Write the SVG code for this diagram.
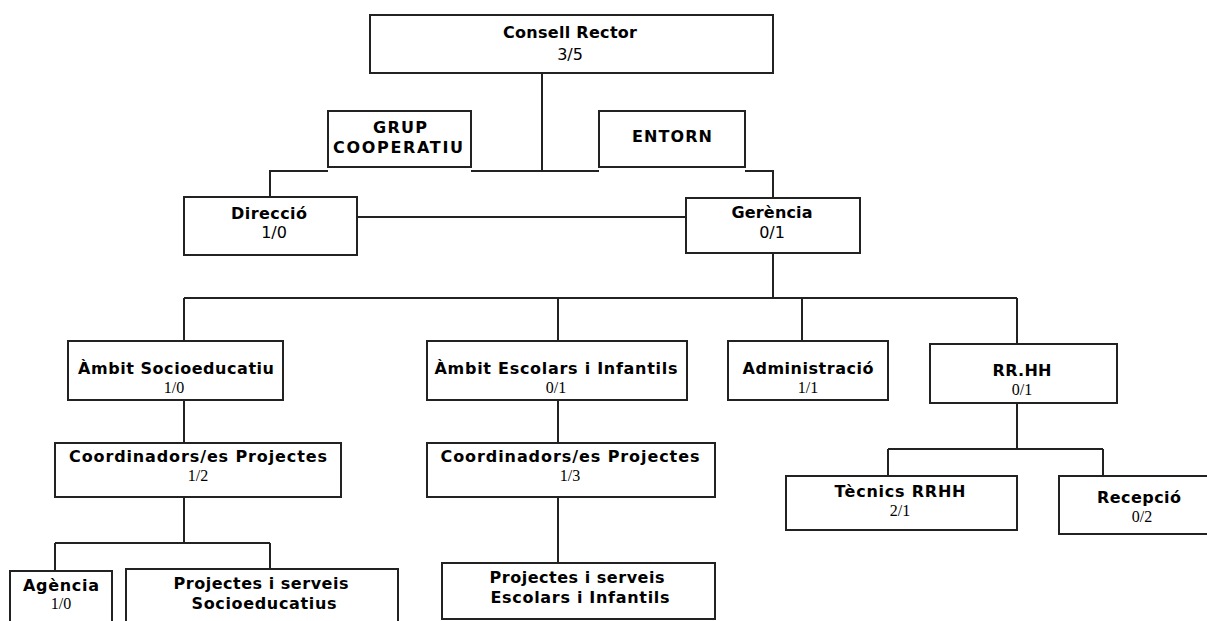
<svg xmlns="http://www.w3.org/2000/svg" width="1207" height="621" viewBox="0 0 1207 621">
<style>
rect.box{fill:#fff;stroke:#222;stroke-width:2}
.lbl{font-family:"DejaVu Sans",Verdana,sans-serif;font-weight:bold;font-size:16px;fill:#000;text-anchor:middle}
.num{font-family:"DejaVu Sans",Verdana,sans-serif;font-size:16px;fill:#000;text-anchor:middle}
.nums{font-family:"Liberation Serif","Times New Roman",serif;font-size:16px;fill:#000;text-anchor:middle}
#connectors path{fill:none;stroke:#222;stroke-width:2}
</style>
<rect width="1207" height="621" fill="#fff"/>
<g id="connectors">
<path d="M542 73V171M471 171H599"/>
<path d="M328 171H270V197"/>
<path d="M745 171H773V198"/>
<path d="M357 217H686"/>
<path d="M773 253V298"/>
<path d="M184 298H1017"/>
<path d="M184 298V341M558 298V341M802 298V341M1017 298V344"/>
<path d="M184 400V443M558 400V443"/>
<path d="M184 497V543M55 543H270M55 543V571M270 543V569"/>
<path d="M558 497V563"/>
<path d="M1017 403V449M888 449H1103M888 449V476M1103 449V476"/>
</g>
<g id="consell-rector"><rect class="box" x="370" y="15" width="403" height="58"/><text class="lbl" x="570" y="38" textLength="134" lengthAdjust="spacing">Consell Rector</text><text class="num" x="570" y="59.5">3/5</text></g>
<g id="grup-cooperatiu"><rect class="box" x="328" y="111" width="143" height="56"/><text class="lbl" x="400" y="133" textLength="54" lengthAdjust="spacing">GRUP</text><text class="lbl" x="398" y="153" textLength="130" lengthAdjust="spacing">COOPERATIU</text></g>
<g id="entorn"><rect class="box" x="599" y="111" width="146" height="56"/><text class="lbl" x="672" y="142" textLength="80" lengthAdjust="spacing">ENTORN</text></g>
<g id="direccio"><rect class="box" x="184" y="197" width="173" height="58"/><text class="lbl" x="269" y="219" textLength="76" lengthAdjust="spacing">Direcció</text><text class="num" x="274" y="238">1/0</text></g>
<g id="gerencia"><rect class="box" x="686" y="198" width="174" height="55"/><text class="lbl" x="772" y="218" textLength="81" lengthAdjust="spacing">Gerència</text><text class="num" x="772" y="238">0/1</text></g>
<g id="ambit-socioeducatiu"><rect class="box" x="68" y="341" width="215" height="59"/><text class="lbl" x="176" y="374" textLength="196" lengthAdjust="spacing">Àmbit Socioeducatiu</text><text class="nums" x="174" y="393">1/0</text></g>
<g id="ambit-escolars"><rect class="box" x="427" y="341" width="260" height="59"/><text class="lbl" x="556" y="374" textLength="243" lengthAdjust="spacing">Àmbit Escolars i Infantils</text><text class="nums" x="556" y="393">0/1</text></g>
<g id="administracio"><rect class="box" x="728" y="341" width="160" height="59"/><text class="lbl" x="808" y="374" textLength="131" lengthAdjust="spacing">Administració</text><text class="nums" x="808" y="393">1/1</text></g>
<g id="rrhh"><rect class="box" x="930" y="344" width="187" height="59"/><text class="lbl" x="1022" y="376" textLength="59" lengthAdjust="spacing">RR.HH</text><text class="nums" x="1022" y="395">0/1</text></g>
<g id="coordinadors-1"><rect class="box" x="55" y="443" width="286" height="54"/><text class="lbl" x="198" y="462" textLength="258" lengthAdjust="spacing">Coordinadors/es Projectes</text><text class="nums" x="198" y="481">1/2</text></g>
<g id="coordinadors-2"><rect class="box" x="427" y="443" width="288" height="54"/><text class="lbl" x="570" y="462" textLength="259" lengthAdjust="spacing">Coordinadors/es Projectes</text><text class="nums" x="570" y="481">1/3</text></g>
<g id="tecnics-rrhh"><rect class="box" x="786" y="476" width="231" height="54"/><text class="lbl" x="900" y="497" textLength="131" lengthAdjust="spacing">Tècnics RRHH</text><text class="nums" x="900" y="516">2/1</text></g>
<g id="recepcio"><rect class="box" x="1059" y="476" width="158" height="58"/><text class="lbl" x="1139" y="503" textLength="84" lengthAdjust="spacing">Recepció</text><text class="nums" x="1142" y="522">0/2</text></g>
<g id="agencia"><rect class="box" x="10" y="571" width="102" height="60"/><text class="lbl" x="61" y="591" textLength="76" lengthAdjust="spacing">Agència</text><text class="nums" x="61" y="609">1/0</text></g>
<g id="projectes-socio"><rect class="box" x="126" y="569" width="272" height="62"/><text class="lbl" x="261" y="589" textLength="175" lengthAdjust="spacing">Projectes i serveis</text><text class="lbl" x="264" y="609" textLength="145" lengthAdjust="spacing">Socioeducatius</text></g>
<g id="projectes-escolars"><rect class="box" x="442" y="563" width="273" height="56"/><text class="lbl" x="577" y="583" textLength="175" lengthAdjust="spacing">Projectes i serveis</text><text class="lbl" x="580" y="603" textLength="179" lengthAdjust="spacing">Escolars i Infantils</text></g>
</svg>
